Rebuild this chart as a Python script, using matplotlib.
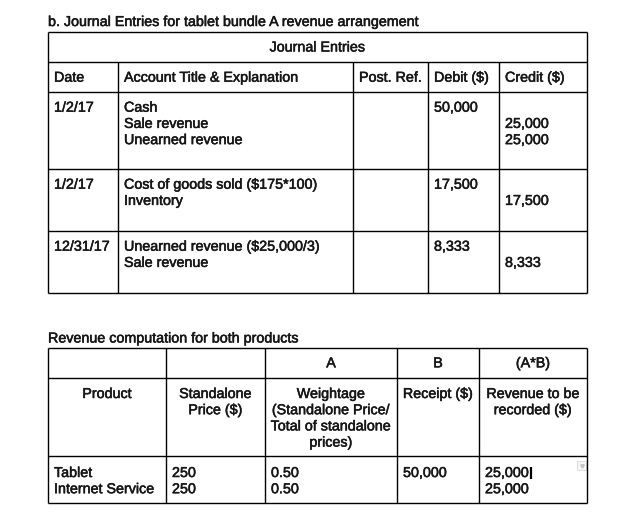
import matplotlib
matplotlib.use("Agg")
import matplotlib.pyplot as plt
import matplotlib.patheffects as pe
from matplotlib.patches import Rectangle

plt.rcParams['font.family'] = ['Liberation Sans', 'DejaVu Sans']

# journal entries table
journal_title = "b. Journal Entries for tablet bundle A revenue arrangement"
journal_caption = "Journal Entries"
journal_header = ["Date", "Account Title & Explanation", "Post. Ref.", "Debit ($)", "Credit ($)"]
entry_dates = ["1/2/17", "1/2/17", "12/31/17"]
entry_accounts = [["Cash", "Sale revenue", "Unearned revenue"],
                  ["Cost of goods sold ($175*100)", "Inventory"],
                  ["Unearned revenue ($25,000/3)", "Sale revenue"]]
entry_debits = [50000, 17500, 8333]
entry_credits = [[25000, 25000], [17500], [8333]]

# revenue computation table
revenue_title = "Revenue computation for both products"
revenue_top = ["", "", "A", "B", "(A*B)"]
revenue_header = [["Product"], ["Standalone", "Price ($)"],
                  ["Weightage", "(Standalone Price/", "Total of standalone", "prices)"],
                  ["Receipt ($)"], ["Revenue to be", "recorded ($)"]]
products = ["Tablet", "Internet Service"]
standalone_price = [250, 250]
weightage = [0.50, 0.50]
receipt = [50000]
revenue_recorded = [25000, 25000]

# layout (pixels)
FS = 10.3
LINE = 16.2
PAD = 6
LW = 1.0
TXT = '#161616'
t1_cols = [48, 118, 353, 428, 499, 587]
t1_rows = [32, 62, 92, 169, 231, 293]
t2_cols = [48, 166, 265, 397, 479, 587]
t2_rows = [348, 377.5, 456, 503]
heavy = [pe.withStroke(linewidth=0.38, foreground=TXT)]

fig = plt.figure(figsize=(6.38, 5.26), dpi=100)
ax = fig.add_axes([0, 0, 1, 1])
ax.set_xlim(0, 638)
ax.set_ylim(526, 0)
ax.axis('off')


def put(x, y, s, ha='left'):
    return ax.text(x, y, s, ha=ha, va='baseline', fontsize=FS, color=TXT,
                   parse_math=False, path_effects=heavy)


def fmt(v):
    return f"{v:,}"


# ---- table 1 ----
put(t1_cols[0], 26, journal_title)
ax.hlines(t1_rows, t1_cols[0], t1_cols[-1], color='k', lw=LW)
ax.vlines([t1_cols[0], t1_cols[-1]], t1_rows[0], t1_rows[-1], color='k', lw=LW)
ax.vlines(t1_cols[1:-1], t1_rows[1], t1_rows[-1], color='k', lw=LW)

put((t1_cols[0] + t1_cols[-1]) / 2, t1_rows[0] + 19.5, journal_caption, ha='center')
for c, h in enumerate(journal_header):
    put(t1_cols[c] + PAD, t1_rows[1] + 19.7, h)

for i in range(len(entry_dates)):
    base = t1_rows[2 + i] + 19.7
    put(t1_cols[0] + PAD, base, entry_dates[i])
    for k, acc in enumerate(entry_accounts[i]):
        put(t1_cols[1] + PAD, base + k * LINE, acc)
    put(t1_cols[3] + PAD, base, fmt(entry_debits[i]))
    for k, cr in enumerate(entry_credits[i]):
        put(t1_cols[4] + PAD, base + (k + 1) * LINE, fmt(cr))

# ---- table 2 ----
put(t2_cols[0], 342.5, revenue_title)
ax.hlines(t2_rows, t2_cols[0], t2_cols[-1], color='k', lw=LW)
ax.vlines(t2_cols, t2_rows[0], t2_rows[-1], color='k', lw=LW)

for c, h in enumerate(revenue_top):
    put((t2_cols[c] + t2_cols[c + 1]) / 2, t2_rows[0] + 19.3, h, ha='center')
for c, lines in enumerate(revenue_header):
    for k, s in enumerate(lines):
        put((t2_cols[c] + t2_cols[c + 1]) / 2, t2_rows[1] + 20.5 + k * LINE, s, ha='center')

base = t2_rows[2] + 21
first_rev = None
for k in range(len(products)):
    y = base + k * LINE
    put(t2_cols[0] + PAD, y, products[k])
    put(t2_cols[1] + PAD, y, str(standalone_price[k]))
    put(t2_cols[2] + PAD, y, f"{weightage[k]:.2f}")
    t = put(t2_cols[4] + PAD, y, fmt(revenue_recorded[k]))
    if first_rev is None:
        first_rev = t
for k, r in enumerate(receipt):
    put(t2_cols[3] + PAD, base + k * LINE, fmt(r))

# text cursor after the first revenue value, and the small dropdown box
fig.canvas.draw()
bb = first_rev.get_window_extent().transformed(ax.transData.inverted())
ax.vlines(bb.x1 + 2, base - 10.5, base + 1.5, color='k', lw=1.6)
ax.add_patch(Rectangle((577, 461), 9, 9, facecolor='#f6f6f6', edgecolor='#d9d9d9', lw=0.6))
ax.plot([581.5], [465.5], marker='v', ms=2.5, color='#c4c4c4')

fig.savefig("out.png", dpi=100, facecolor='white')
